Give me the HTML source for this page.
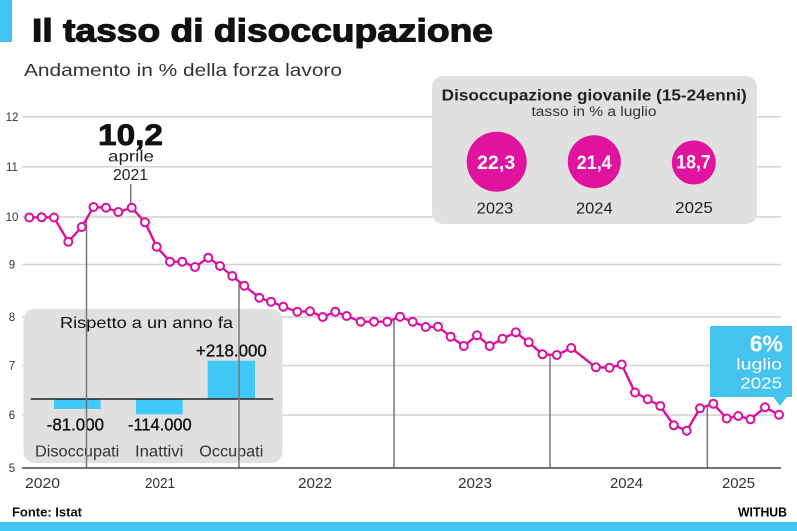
<!DOCTYPE html>
<html><head><meta charset="utf-8"><style>
html,body{margin:0;padding:0;background:#fff;}
svg{display:block;}
text{font-family:"Liberation Sans",sans-serif;}
</style></head><body>
<svg width="797" height="531" viewBox="0 0 797 531" xmlns="http://www.w3.org/2000/svg">
<rect width="797" height="531" fill="#fff"/>
<rect x="0" y="0" width="12" height="42" fill="#3fc5f1"/>
<text x="32" y="41.7" font-size="32" font-weight="900" fill="#111" stroke="#111" stroke-width="1.1" textLength="461" lengthAdjust="spacingAndGlyphs">Il tasso di disoccupazione</text>
<text x="24" y="76" font-size="17.5" fill="#333" textLength="318" lengthAdjust="spacingAndGlyphs">Andamento in % della forza lavoro</text>

<!-- gridlines -->
<g stroke="#d2d2d2" stroke-width="1.5">
<line x1="22" x2="781" y1="116.7" y2="116.7"/>
<line x1="22" x2="781" y1="166.7" y2="166.7"/>
<line x1="22" x2="781" y1="217" y2="217"/>
<line x1="22" x2="781" y1="264.5" y2="264.5"/>
<line x1="22" x2="781" y1="317" y2="317"/>
<line x1="22" x2="781" y1="365.5" y2="365.5"/>
<line x1="22" x2="781" y1="415" y2="415"/>
</g>
<g font-size="11.5" fill="#333" text-anchor="middle">
<text x="12" y="120.8">12</text>
<text x="12" y="170.8">11</text>
<text x="12" y="221">10</text>
<text x="12" y="268.5">9</text>
<text x="12" y="321">8</text>
<text x="12" y="369.5">7</text>
<text x="12" y="419">6</text>
<text x="12" y="472">5</text>
</g>

<!-- youth box -->
<rect x="432" y="76" width="325" height="148" rx="11" fill="#e0e0e0"/>
<text x="594.2" y="100.5" font-size="15.5" font-weight="bold" fill="#222" text-anchor="middle" textLength="305" lengthAdjust="spacingAndGlyphs">Disoccupazione giovanile (15-24enni)</text>
<text x="594" y="116" font-size="13.5" fill="#333" text-anchor="middle" textLength="125" lengthAdjust="spacingAndGlyphs">tasso in % a luglio</text>
<g fill="#e0139e">
<circle cx="496.7" cy="161.7" r="30"/>
<circle cx="594.3" cy="161.7" r="26.5"/>
<circle cx="693.8" cy="162.5" r="22"/>
</g>
<g font-size="19" font-weight="bold" fill="#fff" text-anchor="middle">
<text x="496.2" y="168.8" textLength="38" lengthAdjust="spacingAndGlyphs">22,3</text>
<text x="594.2" y="168.8" textLength="35" lengthAdjust="spacingAndGlyphs">21,4</text>
<text x="693.5" y="168.5" textLength="34.5" lengthAdjust="spacingAndGlyphs">18,7</text>
</g>
<g font-size="16" fill="#222" text-anchor="middle">
<text x="495" y="213.3" textLength="36.6" lengthAdjust="spacingAndGlyphs">2023</text>
<text x="594.3" y="213.3" textLength="36.6" lengthAdjust="spacingAndGlyphs">2024</text>
<text x="694" y="213" textLength="37.6" lengthAdjust="spacingAndGlyphs">2025</text>
</g>

<!-- rispetto box -->
<rect x="23.5" y="309" width="259" height="154" rx="11" fill="#e0e0e0"/>
<text x="60" y="328" font-size="16" fill="#111" textLength="173" lengthAdjust="spacingAndGlyphs">Rispetto a un anno fa</text>
<g fill="#40c8f8">
<rect x="54" y="399" width="46.7" height="10"/>
<rect x="136" y="399" width="46.7" height="15.3"/>
<rect x="207.7" y="360.7" width="47.3" height="38.3"/>
</g>
<line x1="30.7" x2="273.3" y1="399" y2="399" stroke="#222" stroke-width="1.5"/>
<g font-size="17.5" fill="#111" stroke="#111" stroke-width="0.35">
<text x="196" y="356.5" textLength="70.7" lengthAdjust="spacingAndGlyphs">+218.000</text>
<text x="46.7" y="430.5" textLength="57.3" lengthAdjust="spacingAndGlyphs">-81.000</text>
<text x="128" y="430.5" textLength="63.7" lengthAdjust="spacingAndGlyphs">-114.000</text>
</g>
<g font-size="15.5" fill="#333">
<text x="35" y="456.5" textLength="84.3" lengthAdjust="spacingAndGlyphs">Disoccupati</text>
<text x="135" y="456.5" textLength="48.3" lengthAdjust="spacingAndGlyphs">Inattivi</text>
<text x="199.3" y="456.5" textLength="64" lengthAdjust="spacingAndGlyphs">Occupati</text>
</g>

<!-- vertical lines -->
<g stroke="#777" stroke-width="1.5">
<line x1="86.5" x2="86.5" y1="219" y2="468"/>
<line x1="130.7" x2="130.7" y1="184" y2="206"/>
<line x1="239" x2="239" y1="281.4" y2="468"/>
<line x1="394" x2="394" y1="319" y2="468"/>
<line x1="550" x2="550" y1="354.6" y2="468"/>
<line x1="707.3" x2="707.3" y1="405.8" y2="468"/>
</g>
<line x1="22" x2="781" y1="468" y2="468" stroke="#444" stroke-width="1.6"/>

<!-- annotation 10,2 -->
<text x="130.5" y="145" font-size="30" font-weight="bold" fill="#111" stroke="#111" stroke-width="0.8" text-anchor="middle" textLength="65" lengthAdjust="spacingAndGlyphs">10,2</text>
<text x="131" y="161.5" font-size="16" fill="#222" text-anchor="middle" textLength="46" lengthAdjust="spacingAndGlyphs">aprile</text>
<text x="130.5" y="180" font-size="16" fill="#222" text-anchor="middle" textLength="35" lengthAdjust="spacingAndGlyphs">2021</text>

<!-- series -->
<polyline fill="none" stroke="#d9119f" stroke-width="2.4" stroke-linejoin="round" points="29.3,217.5 41.7,217.3 54,217.5 68.3,241.7 81.7,227 93.5,207 106,207.7 118.3,212 131.7,207.7 145,222.3 156.7,246.7 170,261.7 182.3,261.7 195,267 208.3,257.7 220,266 232.3,276 244.3,285.7 259.3,297.7 271,301.7 283.3,306.7 297.3,311.7 310,311.3 322.7,317 335.3,311.7 346.7,316 360.7,321.7 374,321.7 387.3,321.7 400,316.7 412.7,321.7 425.7,327 438,326.7 450.7,336.7 463.8,346 477,335.3 489.7,346 502.5,338.7 515.8,332.3 528.7,342.3 542.5,354.3 556.8,355 571.2,348 595.8,367.3 609.5,367.7 621.7,364.5 635,392.5 647.7,399.2 660.3,406 673.8,425.3 686.7,430.7 700,408.3 713.3,403.7 726.7,418.5 738.3,416 750.5,419.3 765,407.3 779,414.8"/>
<g fill="#fff" stroke="#d9119f" stroke-width="2">
<circle cx="29.3" cy="217.5" r="4"/><circle cx="41.7" cy="217.3" r="4"/><circle cx="54" cy="217.5" r="4"/><circle cx="68.3" cy="241.7" r="4"/><circle cx="81.7" cy="227" r="4"/><circle cx="93.5" cy="207" r="4"/><circle cx="106" cy="207.7" r="4"/><circle cx="118.3" cy="212" r="4"/><circle cx="131.7" cy="207.7" r="4"/><circle cx="145" cy="222.3" r="4"/><circle cx="156.7" cy="246.7" r="4"/><circle cx="170" cy="261.7" r="4"/><circle cx="182.3" cy="261.7" r="4"/><circle cx="195" cy="267" r="4"/><circle cx="208.3" cy="257.7" r="4"/><circle cx="220" cy="266" r="4"/><circle cx="232.3" cy="276" r="4"/><circle cx="244.3" cy="285.7" r="4"/><circle cx="259.3" cy="297.7" r="4"/><circle cx="271" cy="301.7" r="4"/><circle cx="283.3" cy="306.7" r="4"/><circle cx="297.3" cy="311.7" r="4"/><circle cx="310" cy="311.3" r="4"/><circle cx="322.7" cy="317" r="4"/><circle cx="335.3" cy="311.7" r="4"/><circle cx="346.7" cy="316" r="4"/><circle cx="360.7" cy="321.7" r="4"/><circle cx="374" cy="321.7" r="4"/><circle cx="387.3" cy="321.7" r="4"/><circle cx="400" cy="316.7" r="4"/><circle cx="412.7" cy="321.7" r="4"/><circle cx="425.7" cy="327" r="4"/><circle cx="438" cy="326.7" r="4"/><circle cx="450.7" cy="336.7" r="4"/><circle cx="463.8" cy="346" r="4"/><circle cx="477" cy="335.3" r="4"/><circle cx="489.7" cy="346" r="4"/><circle cx="502.5" cy="338.7" r="4"/><circle cx="515.8" cy="332.3" r="4"/><circle cx="528.7" cy="342.3" r="4"/><circle cx="542.5" cy="354.3" r="4"/><circle cx="556.8" cy="355" r="4"/><circle cx="571.2" cy="348" r="4"/><circle cx="595.8" cy="367.3" r="4"/><circle cx="609.5" cy="367.7" r="4"/><circle cx="621.7" cy="364.5" r="4"/><circle cx="635" cy="392.5" r="4"/><circle cx="647.7" cy="399.2" r="4"/><circle cx="660.3" cy="406" r="4"/><circle cx="673.8" cy="425.3" r="4"/><circle cx="686.7" cy="430.7" r="4"/><circle cx="700" cy="408.3" r="4"/><circle cx="713.3" cy="403.7" r="4"/><circle cx="726.7" cy="418.5" r="4"/><circle cx="738.3" cy="416" r="4"/><circle cx="750.5" cy="419.3" r="4"/><circle cx="765" cy="407.3" r="4"/><circle cx="779" cy="414.8" r="4"/>
</g>

<!-- callout -->
<rect x="710" y="326" width="82" height="71" fill="#45c3ef"/>
<polygon points="773,396.5 787,396.5 780,406" fill="#45c3ef"/>
<text x="783" y="351.7" font-size="23" font-weight="bold" fill="#fff" text-anchor="end">6%</text>
<text x="782" y="369.5" font-size="16" fill="#fff" text-anchor="end" textLength="45.7" lengthAdjust="spacingAndGlyphs">luglio</text>
<text x="782" y="388.3" font-size="16" fill="#fff" text-anchor="end" textLength="41.7" lengthAdjust="spacingAndGlyphs">2025</text>

<!-- x labels -->
<g font-size="15" fill="#333">
<text x="25" y="488" textLength="35" lengthAdjust="spacingAndGlyphs">2020</text>
<text x="145" y="488" textLength="30" lengthAdjust="spacingAndGlyphs">2021</text>
<text x="298" y="488" textLength="34" lengthAdjust="spacingAndGlyphs">2022</text>
<text x="458" y="488" textLength="34" lengthAdjust="spacingAndGlyphs">2023</text>
<text x="610" y="488" textLength="33" lengthAdjust="spacingAndGlyphs">2024</text>
<text x="722" y="488" textLength="33" lengthAdjust="spacingAndGlyphs">2025</text>
</g>

<text x="12" y="516.5" font-size="12.5" font-weight="bold" fill="#111" textLength="70" lengthAdjust="spacingAndGlyphs">Fonte: Istat</text>
<text x="738" y="516.5" font-size="12.5" font-weight="bold" fill="#000" textLength="49" lengthAdjust="spacingAndGlyphs">WITHUB</text>
<rect x="0" y="522" width="797" height="9" fill="#3fc5f1"/>
</svg>
</body></html>
